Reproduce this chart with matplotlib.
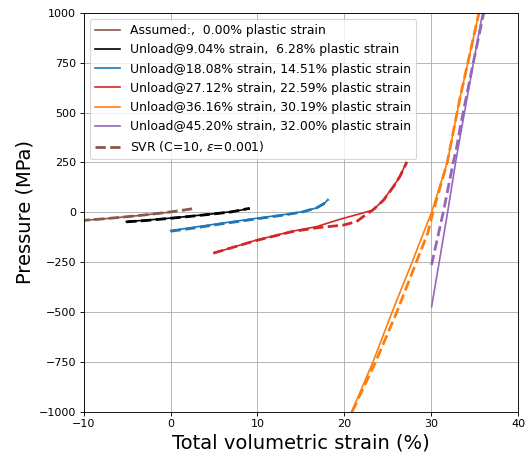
import matplotlib
matplotlib.use("Agg")
import matplotlib.pyplot as plt

# ── data ──────────────────────────────────────────────────────────────────────
# Assumed curve (0 % plastic strain)
assumed_x = [-10.5, -7.5, -5.0, -2.5, 0.0]
assumed_p = [-42, -32, -22, -11, 1]
assumed_svr_x = [-10.5, -7.5, -5.0, -2.5, 0.0, 1.5, 2.8]
assumed_svr_p = [-42, -32, -22, -11, 2, 11, 20]

# Unload @ 9.04 %
u9_x = [-5.1, -3.0, -1.3, 1.0, 3.0, 5.0, 7.0, 9.04]
u9_p = [-47, -40, -34, -25, -16, -7, 3, 18]
u9_svr_x = [-5.1, -3.0, -1.3, 1.0, 3.0, 5.0, 7.0, 9.1]
u9_svr_p = [-48, -42, -35, -26, -17, -8, 2, 20]

# Unload @ 18.08 %
u18_x = [0.0, 3.0, 6.0, 9.9, 13.0, 15.2, 16.8, 17.6, 18.08]
u18_p = [-92, -73, -54, -30, -12, 3, 22, 40, 62]
u18_svr_x = [0.0, 3.0, 6.0, 9.9, 13.0, 15.2, 16.8, 17.6, 18.2]
u18_svr_p = [-95, -77, -57, -33, -14, 2, 22, 42, 65]

# Unload @ 27.12 %
u27_x = [5.1, 9.9, 14.0, 16.8, 19.5, 22.0, 23.3, 24.5, 25.6, 26.4, 27.12]
u27_p = [-203, -139, -95, -72, -35, -5, 11, 62, 128, 178, 250]
u27_svr_x = [4.9, 9.9, 14.0, 16.8, 19.9, 21.4, 22.4, 23.3, 24.5, 25.6, 26.4, 27.2]
u27_svr_p = [-205, -141, -97, -78, -64, -47, -14, 12, 60, 125, 180, 252]

# Unload @ 36.16 %
u36_x = [20.85, 23.3, 25.5, 27.8, 30.04, 31.85, 33.3, 35.5, 35.8]
u36_p = [-1000, -750, -500, -250, 0, 250, 570, 1000, 1060]
u36_svr_x = [20.9, 23.6, 26.05, 28.2, 29.6, 30.2, 31.85, 33.3, 35.5, 35.8]
u36_svr_p = [-1000, -750, -500, -260, -105, 0, 250, 570, 1000, 1060]

# Unload @ 45.20 %
u45_x = [30.05, 30.92, 31.89, 32.81, 33.5, 34.7, 35.92, 36.1]
u45_p = [-473, -250, 0, 250, 420, 710, 1000, 1040]
u45_svr_x = [30.04, 31.39, 32.54, 32.93, 33.4, 34.7, 36.05, 36.2]
u45_svr_p = [-264, 0, 250, 325, 440, 720, 1000, 1030]

labels = [
    "Assumed:,  0.00% plastic strain",
    "Unload@9.04% strain,  6.28% plastic strain",
    "Unload@18.08% strain, 14.51% plastic strain",
    "Unload@27.12% strain, 22.59% plastic strain",
    "Unload@36.16% strain, 30.19% plastic strain",
    "Unload@45.20% strain, 32.00% plastic strain",
]
colors = ["tab:brown", "black", "tab:blue", "tab:red", "tab:orange", "tab:purple"]

x_ticks = [-10, 0, 10, 20, 30, 40]
y_ticks = [-1000, -750, -500, -250, 0, 250, 500, 750, 1000]

curves = [
    (assumed_x, assumed_p, assumed_svr_x, assumed_svr_p),
    (u9_x, u9_p, u9_svr_x, u9_svr_p),
    (u18_x, u18_p, u18_svr_x, u18_svr_p),
    (u27_x, u27_p, u27_svr_x, u27_svr_p),
    (u36_x, u36_p, u36_svr_x, u36_svr_p),
    (u45_x, u45_p, u45_svr_x, u45_svr_p),
]

# ── plot ──────────────────────────────────────────────────────────────────────
fig = plt.figure(figsize=(527 / 80, 460 / 80), dpi=80)
ax = fig.add_axes([0.159, 0.105, 0.824, 0.867])

for (x, p, sx, sp), c, lab in zip(curves, colors, labels):
    ax.plot(x, p, color=c, lw=1.5, label=lab)
for i, ((x, p, sx, sp), c) in enumerate(zip(curves, colors)):
    ax.plot(sx, sp, color=c, lw=2.5, ls="--",
            label=r"SVR (C=10, $\epsilon$=0.001)" if i == 0 else None)

ax.set_xlim(-10, 40)
ax.set_ylim(-1000, 1000)
ax.set_xticks(x_ticks)
ax.set_yticks(y_ticks)
ax.tick_params(labelsize=10)
ax.grid(True)
ax.set_xlabel("Total volumetric strain (%)", fontsize=17.6)
ax.set_ylabel("Pressure (MPa)", fontsize=17.6)
ax.legend(loc="upper left", fontsize=11.2)

fig.savefig("out.png", dpi=80)
